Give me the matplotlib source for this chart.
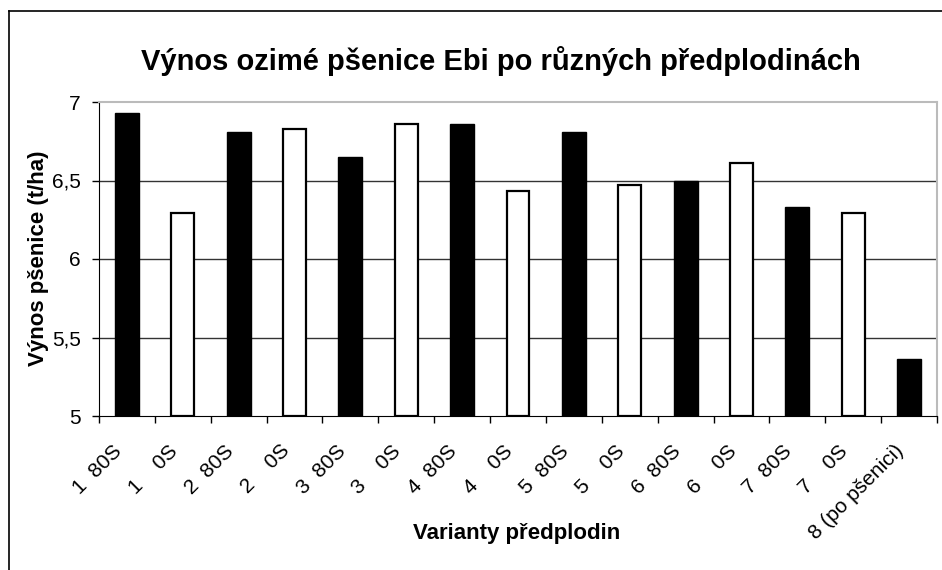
import matplotlib
matplotlib.use("Agg")
import matplotlib.pyplot as plt
from matplotlib.lines import Line2D
from matplotlib.ticker import FixedLocator
from matplotlib.transforms import ScaledTranslation

plt.rcParams['font.family'] = ['Liberation Sans', 'DejaVu Sans']

# data
varianty = ["1  80S", "1    0S", "2  80S", "2    0S", "3  80S", "3    0S", "4  80S", "4    0S",
            "5  80S", "5    0S", "6  80S", "6    0S", "7  80S", "7    0S", "8 (po pšenici)"]
vynos = [6.93, 6.29, 6.81, 6.83, 6.65, 6.86, 6.86, 6.43,
         6.81, 6.47, 6.50, 6.61, 6.33, 6.29, 5.36]
y_ticks = [5, 5.5, 6, 6.5, 7]
y_tick_labels = ["5", "5,5", "6", "6,5", "7"]

W, H = 942, 570
fig = plt.figure(figsize=(W / 100, H / 100), dpi=100)
ax = fig.add_axes([99 / W, 1 - 416 / H, (937 - 99) / W, (416 - 102) / H])

x = list(range(len(vynos)))
for i, v in zip(x, vynos):
    if i % 2 == 0:
        ax.bar(i, v - 5, bottom=5, width=0.43, color="black", edgecolor="black", linewidth=1, zorder=3)
    else:
        ax.bar(i, v - 5, bottom=5, width=0.41, color="white", edgecolor="black", linewidth=1.6, zorder=3)

ax.set_xlim(-0.5, len(vynos) - 0.5)
ax.set_ylim(5, 7)

# gridlines
for t in y_ticks[1:-1]:
    ax.axhline(t, color="#333333", lw=1, zorder=1)

ax.set_yticks(y_ticks)
ax.set_yticklabels(y_tick_labels, fontsize=15)
ax.tick_params(axis="y", direction="out", length=5, width=1, pad=8)

ax.set_xticks(x)
ax.set_xticklabels(varianty, fontsize=15, rotation=45, ha="right", va="center",
                   rotation_mode="anchor")
ax.tick_params(axis="x", which="major", length=0, pad=23)
shift = ScaledTranslation(-8 / 100, 0, fig.dpi_scale_trans)
for lbl in ax.get_xticklabels():
    lbl.set_transform(lbl.get_transform() + shift)
ax.xaxis.set_minor_locator(FixedLocator([i - 0.5 for i in range(len(vynos) + 1)]))
ax.tick_params(axis="x", which="minor", direction="out", length=5, width=1)

for s in ["top", "right"]:
    ax.spines[s].set_color("#bbbbbb")
    ax.spines[s].set_linewidth(1.5)
ax.spines["left"].set_color("black")
ax.spines["bottom"].set_color("black")

fig.text(501 / W, 1 - 61 / H, "Výnos ozimé pšenice Ebi po různých předplodinách",
         fontsize=21, fontweight="bold", ha="center", va="center")
fig.text(39 / W, 1 - 258 / H, "Výnos pšenice (t/ha)", fontsize=16, fontweight="bold",
         rotation=90, ha="center", va="center")
fig.text(517 / W, 1 - 533 / H, "Varianty předplodin", fontsize=16, fontweight="bold",
         ha="center", va="center")

# outer chart frame (left and top edges visible)
fig.add_artist(Line2D([9 / W, 9 / W], [0, 1 - 11 / H], color="black", lw=1.2, transform=fig.transFigure))
fig.add_artist(Line2D([9 / W, 1], [1 - 11 / H, 1 - 11 / H], color="black", lw=1.2, transform=fig.transFigure))

fig.savefig("out.png", dpi=100)
